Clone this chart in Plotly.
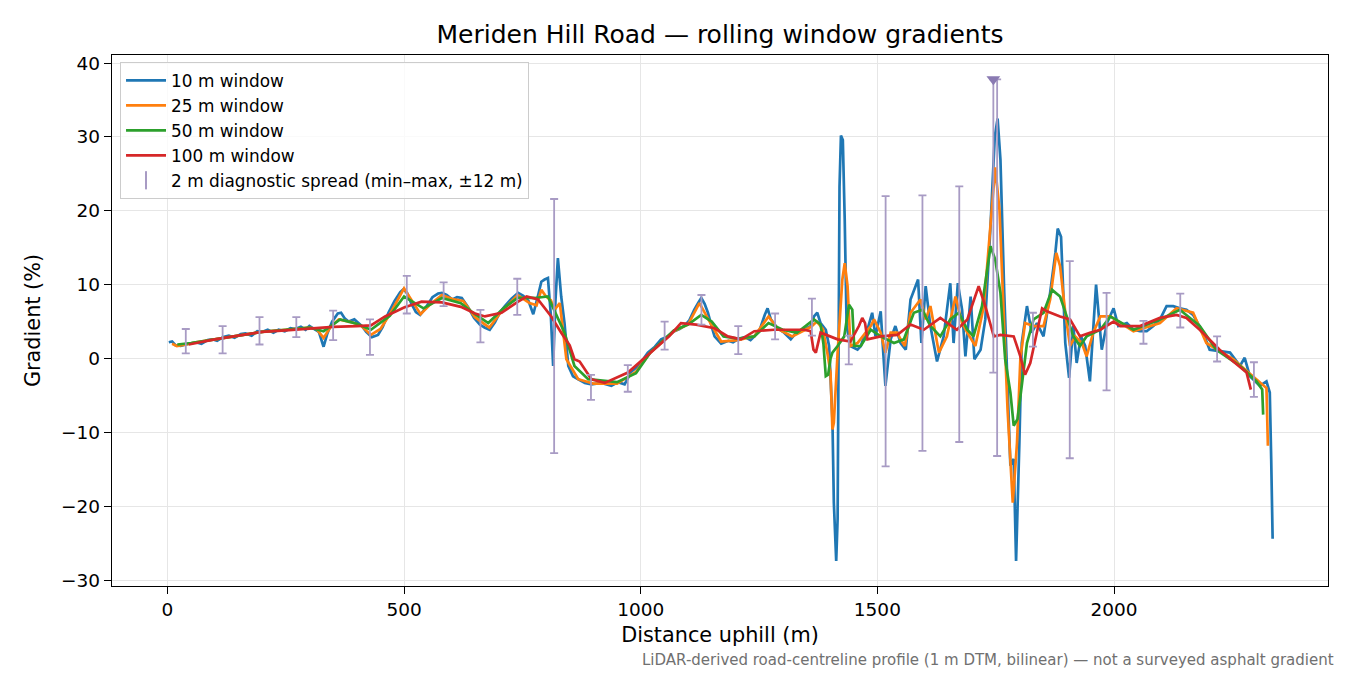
import plotly.graph_objects as go

# --- rolling window gradients (distance m, gradient %) ---
dist_10 = [3, 10, 17, 28, 39, 50, 60, 72, 85, 95, 105, 118, 130, 142, 155, 165, 178, 190, 200, 212,
           224, 235, 248, 260, 270, 282, 292, 300, 310, 320, 330, 338, 348, 360, 367, 375, 383, 395, 411, 420,
           432, 445, 455, 467, 480, 492, 499, 507, 515, 525, 534, 545, 560, 572, 580, 590, 602, 612, 622, 635,
           648, 660, 670, 681, 692, 703, 713, 727, 741, 752, 763, 773, 783, 790, 797, 804, 810, 815, 820, 825,
           832, 839, 847, 857, 868, 882, 896, 917, 938, 952, 966, 980, 995, 1015, 1030, 1043, 1057, 1071, 1082, 1092,
           1103, 1113, 1122, 1128, 1135, 1142, 1150, 1156, 1170, 1185, 1195, 1205, 1220, 1232, 1240, 1252, 1262, 1268, 1275, 1289,
           1303, 1317, 1330, 1345, 1359, 1366, 1373, 1380, 1391, 1398, 1405, 1408, 1413, 1416, 1418, 1420, 1423, 1427, 1431, 1435,
           1443, 1458, 1465, 1472, 1479, 1489, 1496, 1507, 1512, 1517, 1528, 1538, 1549, 1560, 1570, 1586, 1593, 1602, 1612, 1626,
           1640, 1654, 1661, 1670, 1679, 1686, 1697, 1705, 1718, 1728, 1739, 1748, 1754, 1760, 1768, 1774, 1781, 1788, 1793, 1800,
           1805, 1816, 1826, 1837, 1851, 1865, 1876, 1881, 1888, 1897, 1905, 1914, 1921, 1930, 1939, 1949, 1962, 1974, 1985, 1999,
           2009, 2027, 2041, 2055, 2069, 2083, 2097, 2111, 2125, 2139, 2153, 2167, 2188, 2202, 2223, 2245, 2266, 2276, 2287, 2308,
           2322, 2329, 2332, 2335]
grad_10 = [2.2, 2.3, 1.8, 1.7, 1.9, 2.1, 2.2, 2.0, 2.5, 2.6, 2.4, 2.9, 3.1, 2.8, 3.3, 3.4, 3.1, 3.7, 3.6, 3.9,
           3.5, 3.9, 3.7, 4.1, 4.0, 4.3, 3.9, 4.4, 4.0, 3.6, 1.6, 3.4, 5.0, 6.1, 6.2, 5.4, 5.0, 5.3, 4.4, 3.6,
           2.9, 3.2, 4.3, 6.2, 7.8, 9.0, 9.4, 8.8, 7.5, 6.3, 5.9, 6.8, 8.3, 8.8, 8.9, 8.6, 8.0, 8.3, 8.2, 7.0,
           5.5, 4.6, 4.2, 3.9, 4.9, 6.3, 7.1, 8.1, 8.9, 8.5, 7.8, 6.0, 8.5, 10.4, 10.7, 10.9, 6.0, -1.0, 8.0, 13.6,
           8.4, 4.8, -1.0, -2.4, -2.8, -3.3, -3.5, -3.3, -3.7, -3.2, -3.5, -1.8, -1.0, 0.8, 1.6, 2.6, 3.0, 3.7, 4.0, 4.4,
           5.2, 6.6, 7.6, 8.2, 7.4, 6.2, 4.3, 3.0, 2.0, 2.4, 2.2, 2.6, 2.9, 2.5, 3.0, 4.0, 5.9, 6.8, 5.3, 4.1,
           3.5, 2.6, 3.6, 3.9, 4.4, 5.7, 6.2, 4.8, 3.9, 1.7, -8.2, -19.5, -27.4, -21.7, 0.8, 23.3, 30.2, 29.6, 18.8, 4.4,
           1.7, 1.2, 1.7, 3.0, 3.9, 6.2, 3.0, 6.4, 1.2, -3.7, 2.6, 4.4, 2.1, 1.2, 8.0, 10.7, 2.1, 9.8, 4.4, -0.4,
           3.0, 10.2, 2.1, 10.2, 6.6, 0.3, 8.4, -0.1, 1.2, 5.3, 17.9, 30.0, 32.5, 26.9, 8.9, -2.4, -14.5, -13.6, -27.4, -11.4,
           2.1, 7.1, 3.5, 4.8, 3.0, 8.9, 14.3, 17.6, 16.5, 2.1, -2.6, 4.4, -0.6, 3.0, 1.7, -3.1, 10.0, 1.2, 4.8, 6.8,
           4.4, 4.8, 3.9, 3.7, 3.7, 4.4, 5.3, 7.1, 7.1, 6.8, 6.6, 5.9, 3.5, 1.2, 1.0, 0.8, -1.0, 0.1, -2.4, -3.7,
           -3.1, -4.6, -13.6, -24.4]

dist_25 = [10, 20, 40, 60, 100, 150, 200, 250, 300, 315, 330, 345, 362, 390, 410, 430, 450, 470, 500, 520,
           535, 555, 580, 605, 625, 650, 680, 705, 740, 765, 780, 790, 800, 810, 818, 829, 843, 868, 900, 950,
           990, 1020, 1070, 1100, 1124, 1150, 1170, 1205, 1240, 1270, 1290, 1320, 1360, 1372, 1385, 1395, 1401, 1405, 1408, 1416,
           1426, 1431, 1437, 1443, 1458, 1486, 1493, 1507, 1517, 1528, 1542, 1549, 1558, 1570, 1584, 1591, 1602, 1612, 1630, 1647,
           1665, 1679, 1690, 1707, 1725, 1739, 1749, 1758, 1767, 1775, 1786, 1795, 1802, 1812, 1830, 1851, 1865, 1878, 1886, 1897,
           1907, 1918, 1932, 1942, 1956, 1971, 1992, 2041, 2097, 2132, 2167, 2195, 2252, 2294, 2315, 2322, 2325]
grad_25 = [2.0, 1.7, 1.9, 2.2, 2.6, 3.1, 3.6, 3.9, 4.2, 4.0, 2.8, 4.3, 5.3, 4.9, 4.4, 3.2, 4.0, 6.0, 9.5, 7.5,
           6.0, 7.3, 8.6, 8.0, 7.8, 5.6, 4.2, 6.3, 8.6, 7.5, 7.2, 9.3, 8.4, 7.9, 6.6, 7.5, -0.1, -2.8, -3.4, -3.4,
           -1.8, 0.8, 3.7, 4.6, 7.5, 4.5, 2.3, 2.5, 3.0, 5.7, 4.0, 3.0, 4.3, 5.0, 4.0, 0.5, -1.9, -9.6, -8.7, 0.8,
           10.7, 12.9, 9.8, 1.7, 2.1, 4.4, 5.3, 3.5, 0.8, 3.5, 3.5, 2.6, 1.7, 6.2, 7.5, 8.0, 5.3, 7.1, 0.8, 3.0,
           8.4, 4.8, 3.5, 1.7, 7.1, 18.8, 25.9, 20.1, 6.6, -6.9, -19.5, -11.4, -0.1, 4.8, 4.4, 4.4, 8.0, 14.3, 12.5, 6.2,
           1.7, 3.0, 2.1, 0.3, 3.5, 5.7, 5.7, 3.7, 4.8, 6.8, 6.2, 2.1, -0.1, -2.4, -3.5, -4.0, -11.8]

dist_50 = [21, 50, 100, 150, 200, 250, 300, 330, 365, 400, 430, 470, 500, 541, 580, 620, 650, 678, 710, 740,
           776, 804, 815, 839, 860, 889, 950, 990, 1020, 1070, 1100, 1128, 1150, 1175, 1205, 1240, 1270, 1300, 1330, 1366,
           1380, 1386, 1391, 1396, 1401, 1405, 1416, 1430, 1440, 1447, 1451, 1465, 1486, 1507, 1535, 1556, 1577, 1595, 1612, 1633,
           1654, 1672, 1690, 1703, 1721, 1739, 1749, 1760, 1770, 1781, 1788, 1796, 1805, 1816, 1830, 1851, 1869, 1886, 1900, 1914,
           1928, 1942, 1971, 1992, 2041, 2097, 2139, 2181, 2216, 2266, 2301, 2313, 2315]
grad_50 = [1.9, 2.1, 2.6, 3.1, 3.6, 3.9, 4.2, 3.7, 5.3, 4.7, 3.9, 5.8, 8.4, 6.8, 8.2, 7.5, 6.0, 4.8, 6.8, 8.2,
           8.2, 8.4, 6.8, 3.5, -1.0, -2.8, -3.2, -2.0, 0.8, 3.8, 4.6, 5.9, 5.0, 3.0, 2.7, 3.0, 4.8, 3.9, 3.5, 5.3,
           4.6, 2.0, -2.4, -2.2, 0.0, 0.8, 1.7, 3.0, 7.3, 6.6, 1.7, 1.7, 3.9, 3.0, 2.1, 2.6, 6.2, 6.6, 4.4, 3.0,
           5.3, 6.2, 3.9, 3.0, 7.1, 15.2, 13.4, 8.9, -0.1, -4.6, -9.1, -8.2, -3.7, 2.1, 5.3, 6.2, 9.3, 8.4, 5.7, 3.0,
           1.7, 3.0, 3.9, 5.7, 3.9, 5.3, 6.6, 4.4, 1.2, -1.0, -3.1, -4.2, -7.6]

dist_100 = [45, 100, 150, 200, 250, 300, 350, 400, 430, 460, 500, 537, 580, 620, 650, 671, 706, 741, 759, 783,
            811, 832, 850, 860, 871, 896, 924, 973, 1022, 1060, 1085, 1117, 1156, 1184, 1212, 1240, 1282, 1324, 1345, 1359,
            1365, 1370, 1377, 1380, 1416, 1443, 1461, 1468, 1474, 1479, 1507, 1542, 1570, 1598, 1633, 1668, 1690, 1714, 1728, 1746,
            1760, 1788, 1802, 1812, 1823, 1837, 1848, 1858, 1886, 1907, 1928, 1949, 1971, 1999, 2013, 2055, 2097, 2132, 2153, 2181,
            2223, 2252, 2280, 2289]
grad_100 = [1.9, 2.6, 3.1, 3.6, 3.8, 4.1, 4.3, 4.4, 4.5, 5.7, 6.9, 7.7, 7.6, 7.0, 6.1, 5.7, 6.2, 7.7, 8.4, 8.0,
            5.7, 3.5, 1.8, -0.1, -0.4, -2.8, -3.3, -1.9, 0.8, 3.0, 4.8, 4.6, 4.1, 3.0, 2.6, 3.7, 3.9, 3.9, 3.9, 3.7,
            1.2, 0.8, 3.0, 3.5, 2.6, 2.3, 4.4, 5.5, 4.8, 2.6, 3.0, 3.2, 4.6, 3.9, 5.5, 3.9, 5.3, 9.8, 7.1, 3.0,
            3.2, 3.0, 0.3, -2.2, -0.6, 3.5, 6.8, 6.4, 5.7, 5.3, 3.0, 3.5, 3.9, 5.0, 4.4, 4.4, 5.5, 5.9, 5.5, 3.9,
            1.2, -0.4, -1.9, -4.2]

# --- 2 m diagnostic spread (min/max within +-12 m) ---
spread_x = [38.9, 116.7, 194.6, 272.4, 350.2, 428.0, 505.8, 583.6, 661.4, 739.2,
            817.1, 894.9, 972.7, 1050.5, 1128.3, 1206.1, 1283.9, 1361.7, 1439.6, 1517.4,
            1595.2, 1673.0, 1753.0, 1828.6, 1906.4, 1984.2, 2062.1, 2139.9, 2217.7, 2295.5]
spread_lo = [0.7, 0.7, 1.9, 2.9, 2.5, 0.5, 6.1, 7.1, 2.2, 5.9,
             -12.8, -5.6, -4.5, 1.2, 4.6, 0.6, 2.6, 3.1, -0.8, -14.6,
             -12.5, -11.3, -13.2, 1.6, -13.5, -4.3, 2.0, 4.2, -0.4, -5.2]
spread_hi = [4.0, 4.4, 5.6, 5.6, 6.5, 5.3, 11.2, 10.3, 6.6, 10.8,
             21.6, -2.2, -0.9, 5.0, 8.6, 4.4, 6.1, 8.1, 3.1, 22.0,
             22.1, 23.3, 37.8, 6.2, 13.2, 8.9, 5.1, 8.8, 3.0, -0.5]

# steepest 2 m value
peak_x = [1745]
peak_lo = [-1.9]
peak_hi = [37.8]

COLORS = ["#1f77b4", "#ff7f0e", "#2ca02c", "#d62728"]
ERR_COLOR = "#a89bc4"
PEAK_COLOR = "#8a7ab2"
FONT = "DejaVu Sans"

fig = go.Figure()

series = [(dist_10, grad_10, "10 m window"),
          (dist_25, grad_25, "25 m window"),
          (dist_50, grad_50, "50 m window"),
          (dist_100, grad_100, "100 m window")]
for (xs, ys, name), c in zip(series, COLORS):
    fig.add_trace(go.Scatter(x=xs, y=ys, mode="lines", name=name,
                             line=dict(color=c, width=2.7)))

# legend-only entry for the spread bars
fig.add_trace(go.Scatter(x=[None], y=[None], mode="markers",
                         name="2 m diagnostic spread (min–max, ±12 m)",
                         marker=dict(symbol="line-ns-open", size=13, color=ERR_COLOR,
                                     line=dict(width=2, color=ERR_COLOR))))

fig.add_trace(go.Scatter(
    x=spread_x, y=spread_lo, mode="markers", showlegend=False, hoverinfo="skip",
    marker=dict(size=1, color="rgba(0,0,0,0)"),
    error_y=dict(type="data", symmetric=False,
                 array=[h - l for l, h in zip(spread_lo, spread_hi)],
                 arrayminus=[0] * len(spread_lo),
                 color=ERR_COLOR, thickness=1.8, width=4)))

fig.add_trace(go.Scatter(
    x=peak_x, y=peak_hi, mode="markers", showlegend=False, hoverinfo="skip",
    marker=dict(symbol="triangle-down", size=12, color=PEAK_COLOR),
    error_y=dict(type="data", symmetric=False, array=[0],
                 arrayminus=[h - l for l, h in zip(peak_lo, peak_hi)],
                 color=ERR_COLOR, thickness=1.8, width=4)))

axis_common = dict(showline=True, mirror=True, linecolor="black", linewidth=1.4,
                   ticks="outside", ticklen=7, tickwidth=1.4, tickcolor="black",
                   showgrid=True, gridcolor="#e6e6e6", gridwidth=1.2, zeroline=False,
                   tickfont=dict(family=FONT, size=18.5, color="black"))

# the page adds an 8 px body margin, so the margins are shifted to compensate
fig.update_layout(
    width=1350, height=675,
    margin=dict(l=104, r=30, t=47, b=97),
    paper_bgcolor="white", plot_bgcolor="white",
    font=dict(family=FONT, color="black"),
    title=dict(text="Meriden Hill Road — rolling window gradients",
               x=0.5, xref="paper", y=1 - 26 / 675, yref="container", yanchor="middle",
               font=dict(family=FONT, size=25, color="black")),
    xaxis=dict(range=[-117, 2452], tickvals=[0, 500, 1000, 1500, 2000],
               title=dict(text="Distance uphill (m)", standoff=8,
                          font=dict(family=FONT, size=20.8)),
               **axis_common),
    yaxis=dict(range=[-30.8, 41.1], tickvals=[-30, -20, -10, 0, 10, 20, 30, 40],
               title=dict(text="Gradient (%)", standoff=14,
                          font=dict(family=FONT, size=20.8)),
               **axis_common),
    legend=dict(x=0.0066, y=0.987, xanchor="left", yanchor="top",
                bgcolor="rgba(255,255,255,0.8)", bordercolor="#cccccc", borderwidth=1,
                font=dict(family=FONT, size=16.9, color="black"),
                itemwidth=40, tracegroupgap=0),
    annotations=[dict(text="LiDAR-derived road-centreline profile (1 m DTM, bilinear) — not a surveyed asphalt gradient",
                      xref="paper", yref="paper", x=1.0066, y=-0.1394,
                      xanchor="right", yanchor="middle", showarrow=False,
                      font=dict(family=FONT, size=15, color="#707070"))],
    showlegend=True,
)

fig.write_html("out.html")
